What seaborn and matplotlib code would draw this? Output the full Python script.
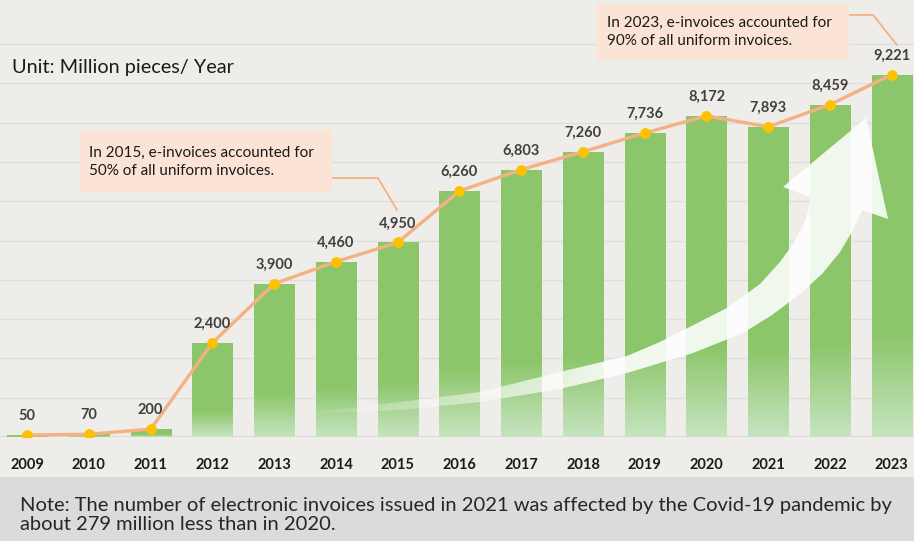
import numpy as np
import matplotlib
matplotlib.use("Agg")
import matplotlib.pyplot as plt
import seaborn as sns
from matplotlib.patches import Polygon, Rectangle
from matplotlib.lines import Line2D

years = ["2009", "2010", "2011", "2012", "2013", "2014", "2015", "2016",
         "2017", "2018", "2019", "2020", "2021", "2022", "2023"]
values = [50, 70, 200, 2400, 3900, 4460, 4950, 6260, 6803, 7260, 7736,
          8172, 7893, 8459, 9221]
value_labels = ["50", "70", "200", "2,400", "3,900", "4,460", "4,950", "6,260",
                "6,803", "7,260", "7,736", "8,172", "7,893", "8,459", "9,221"]
unit_text = "Unit: Million pieces/ Year"
note_2015 = "In 2015, e-invoices accounted for\n50% of all uniform invoices."
note_2023 = "In 2023, e-invoices accounted for\n90% of all uniform invoices."
footnote = ("Note: The number of electronic invoices issued in 2021 was affected by the Covid-19 pandemic by\n"
            "about 279 million less than in 2020.")

sns.set_theme(style="white")
plt.rcParams['font.family'] = ['Lato', 'DejaVu Sans']

W, H = 914, 541
BG = "#EEEDEA"
fig = plt.figure(figsize=(W / 100, H / 100), dpi=100)
fig.patch.set_facecolor(BG)

# footnote band
fig.patches.append(Rectangle((0, 0), 1, (H - 477) / H, transform=fig.transFigure,
                             facecolor="#DCDBD9", edgecolor="none", zorder=0))

ax = fig.add_axes([0, (H - 437) / H, 1, 437 / H])
ax.set_facecolor(BG)

GREEN = "#8CC66A"
sns.barplot(x=years, y=values, ax=ax, color=GREEN, width=0.65, saturation=1,
            edgecolor="none", zorder=2)

XL, YL = (-0.44, 14.36), (0, 11120)
ax.set_xlim(*XL)
ax.set_ylim(*YL)

for v in range(1000, 11000, 1000):
    ax.axhline(v, color="#E0DFDB", lw=1, zorder=1)
ax.axhline(0, color="#D8D8D6", lw=1.2, zorder=1)

# gradient on bars
top = np.array(matplotlib.colors.to_rgb(GREEN))
bottom = np.array(matplotlib.colors.to_rgb("#C6E4C0"))
for p in list(ax.patches):
    x0, w, h = p.get_x(), p.get_width(), p.get_height()
    if h <= 0:
        continue
    f = np.linspace(0, 1, 200)  # from bottom
    t = np.clip(f / 0.28, 0, 1)[:, None]
    col = bottom + (top - bottom) * t
    img = col[::-1][:, None, :]
    im = ax.imshow(img, extent=[x0, x0 + w, 0, h], aspect="auto", zorder=2.1,
                   interpolation="bilinear")
    im.set_clip_path(p)
ax.set_xlim(*XL)
ax.set_ylim(*YL)

# decorative arrow (pixel coordinates -> data)
inv = ax.transData.inverted()
def px(pts):
    return inv.transform([(x, H - y) for x, y in pts])

arrow_px = [(310, 413), (400, 402), (480, 392), (560, 372), (627, 356), (660, 342),
            (727, 308), (760, 284), (780, 262), (793, 244), (803, 226), (808, 212),
            (810, 197), (783, 187), (866, 118), (888, 219), (862, 210), (853, 230),
            (840, 252), (822, 274), (800, 294), (772, 315), (743, 333), (693, 353),
            (627, 373), (560, 389), (480, 402), (400, 410), (310, 414)]
arr = Polygon(px(arrow_px), closed=True, facecolor="none", edgecolor="none", zorder=3)
ax.add_patch(arr)
xs = np.linspace(0, 1, 400)
alpha = np.clip(0.05 + 1.6 * xs, 0, 0.88)
rgba = np.ones((2, 400, 4))
rgba[:, :, 3] = alpha
(xa, ya) = px([(310, 420)])[0]
(xb, yb) = px([(890, 110)])[0]
imA = ax.imshow(rgba, extent=[xa, xb, ya, yb], aspect="auto", zorder=3,
                interpolation="bilinear")
imA.set_clip_path(arr)
ax.set_xlim(*XL)
ax.set_ylim(*YL)

# line with markers
sns.lineplot(x=np.arange(len(values)), y=values, ax=ax, color="#F4B183", lw=2.4,
             zorder=4, marker="o", markersize=7, markerfacecolor="#FFC000",
             markeredgecolor="#FFC000")

for i, (v, lab) in enumerate(zip(values, value_labels)):
    ax.annotate(lab, (i, v), xytext=(0, 12), textcoords="offset pixels",
                ha="center", va="bottom", fontsize=10.5, fontweight="bold",
                color="#404040", zorder=5)

ax.set_xticks(range(len(years)))
ax.set_xticklabels(years, fontsize=10.5, fontweight="bold", color="#1a1a1a")
ax.tick_params(axis="x", length=0, pad=15)
ax.set_yticks([])
ax.set_xlabel("")
ax.set_ylabel("")
for s in ax.spines.values():
    s.set_visible(False)

def fx(x):
    return x / W
def fy(y):
    return 1 - y / H

fig.text(fx(12), fy(67), unit_text, fontsize=14.3, color="#1a1a1a", va="center")

# annotation boxes
BOX = "#FBE4D5"
fig.patches.append(Rectangle((fx(80), fy(192)), (332 - 80) / W, (192 - 130) / H,
                             transform=fig.transFigure, facecolor=BOX, edgecolor="none", zorder=6))
fig.patches.append(Rectangle((fx(597), fy(60)), (849 - 597) / W, (60 - 4) / H,
                             transform=fig.transFigure, facecolor=BOX, edgecolor="none", zorder=6))
fig.text(fx(89), fy(162), note_2015, fontsize=11, color="#1a1a1a", va="center",
         linespacing=1.3, zorder=7)
fig.text(fx(607), fy(32), note_2023, fontsize=11, color="#1a1a1a", va="center",
         linespacing=1.3, zorder=7)
fig.lines.append(Line2D([fx(330), fx(378), fx(397)], [fy(178), fy(178), fy(210)],
                        transform=fig.transFigure, color="#F4B183", lw=1.3, zorder=6))
fig.lines.append(Line2D([fx(848), fx(873), fx(897)], [fy(15), fy(15), fy(45)],
                        transform=fig.transFigure, color="#F4B183", lw=1.3, zorder=6))

fig.text(fx(20), fy(515), footnote, fontsize=14.5, color="#262626", va="center",
         linespacing=1.2)

fig.savefig("out.png", dpi=100, facecolor=BG)
